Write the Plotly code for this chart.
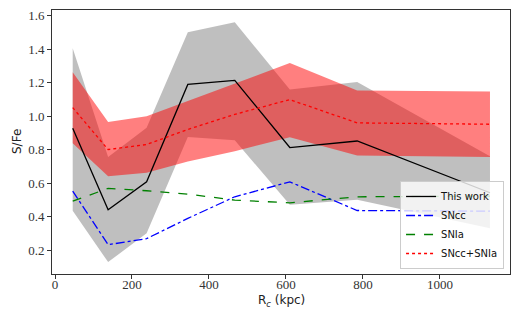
import plotly.graph_objects as go

# ---- data ----
r_kpc = [46, 138, 238, 345, 467, 610, 785, 1130]
this_work = [0.927, 0.44, 0.607, 1.189, 1.213, 0.812, 0.851, 0.542]
this_work_hi = [1.405, 0.756, 0.93, 1.50, 1.56, 1.158, 1.203, 0.76]
this_work_lo = [0.434, 0.128, 0.30, 0.875, 0.855, 0.47, 0.50, 0.33]
sncc = [0.552, 0.232, 0.268, 0.389, 0.518, 0.607, 0.436, 0.432]
snia = [0.492, 0.568, 0.554, 0.534, 0.498, 0.482, 0.518, 0.522]
sncc_snia = [1.05, 0.80, 0.83, 0.92, 1.01, 1.098, 0.959, 0.951]
sncc_snia_hi = [1.262, 0.964, 0.998, 1.09, 1.194, 1.316, 1.153, 1.147]
sncc_snia_lo = [0.838, 0.641, 0.661, 0.728, 0.79, 0.874, 0.765, 0.756]

x_ticks = [0, 200, 400, 600, 800, 1000]
y_ticks = [0.2, 0.4, 0.6, 0.8, 1.0, 1.2, 1.4, 1.6]

SERIF = "Liberation Serif, Times New Roman, serif"
SANS = "DejaVu Sans, sans-serif"

fig = go.Figure()

# grey uncertainty band
fig.add_trace(go.Scatter(x=r_kpc, y=this_work_hi, mode="lines", line=dict(width=0),
                         showlegend=False, hoverinfo="skip"))
fig.add_trace(go.Scatter(x=r_kpc, y=this_work_lo, mode="lines", line=dict(width=0),
                         fill="tonexty", fillcolor="rgba(128,128,128,0.5)",
                         showlegend=False, hoverinfo="skip"))
# red uncertainty band
fig.add_trace(go.Scatter(x=r_kpc, y=sncc_snia_hi, mode="lines", line=dict(width=0),
                         showlegend=False, hoverinfo="skip"))
fig.add_trace(go.Scatter(x=r_kpc, y=sncc_snia_lo, mode="lines", line=dict(width=0),
                         fill="tonexty", fillcolor="rgba(255,0,0,0.5)",
                         showlegend=False, hoverinfo="skip"))

fig.add_trace(go.Scatter(x=r_kpc, y=this_work, mode="lines", name="This work",
                         line=dict(color="black", width=1.3)))
fig.add_trace(go.Scatter(x=r_kpc, y=sncc, mode="lines", name="SNcc",
                         line=dict(color="blue", width=1.3, dash="dashdot")))
fig.add_trace(go.Scatter(x=r_kpc, y=snia, mode="lines", name="SNIa",
                         line=dict(color="green", width=1.3, dash="dash")))
fig.add_trace(go.Scatter(x=r_kpc, y=sncc_snia, mode="lines", name="SNcc+SNIa",
                         line=dict(color="red", width=1.3, dash="dot")))

axis_common = dict(showgrid=False, zeroline=False, showline=True, linecolor="#333333",
                   linewidth=1, mirror=True, ticks="outside", ticklen=4, tickwidth=1,
                   tickcolor="#333333", automargin=False, ticklabeloverflow="allow",
                   tickfont=dict(family=SERIF, size=13, color="#333333"))

fig.update_xaxes(range=[-7.8, 1182], tickvals=x_ticks, ticktext=[str(v) for v in x_ticks],
                 ticklabelstandoff=-6, **axis_common)
fig.update_yaxes(range=[0.057, 1.633], tickvals=y_ticks, ticktext=[f"{v:.1f}" for v in y_ticks],
                 **axis_common)

# page body has an 8px margin, so the figure is placed at (8, 8) in the window
fig.update_layout(
    width=513, height=305,
    margin=dict(l=44, r=11, t=1.5, b=39),
    paper_bgcolor="white", plot_bgcolor="white",
    legend=dict(x=0.987, y=0.019, xanchor="right", yanchor="bottom",
                bgcolor="rgba(255,255,255,0.8)", bordercolor="#cccccc", borderwidth=1,
                font=dict(family=SANS, size=10, color="#111111"),
                itemwidth=30, tracegroupgap=0, traceorder="normal"),
    annotations=[
        dict(text="R<sub><i>c</i></sub> (kpc)", xref="paper", yref="paper",
             x=0.5, y=-0.104, xanchor="center", yanchor="middle", showarrow=False,
             font=dict(family=SANS, size=12, color="#222222")),
        dict(text="S/Fe", xref="paper", yref="paper", textangle=-90,
             x=-0.0764, y=0.5, xanchor="center", yanchor="middle", showarrow=False,
             font=dict(family=SANS, size=12, color="#222222")),
    ],
)

fig.write_html("out.html")
